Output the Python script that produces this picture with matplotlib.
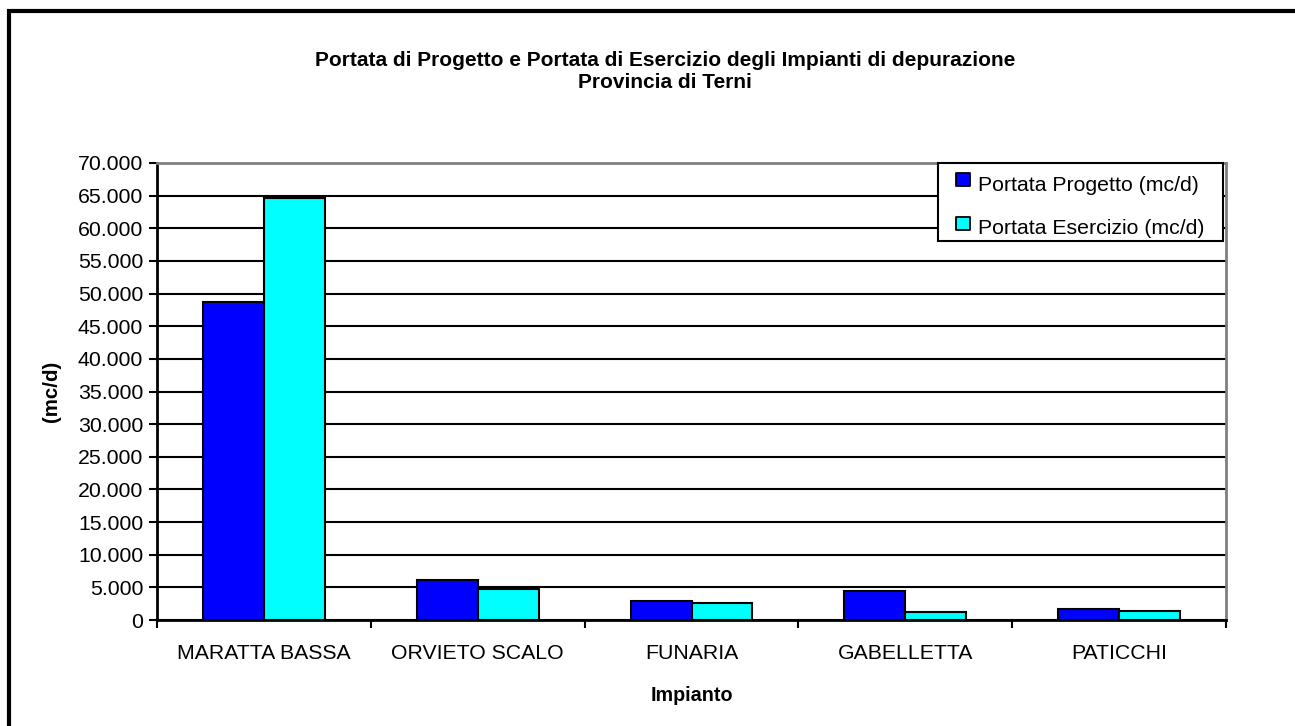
import matplotlib.pyplot as plt
from matplotlib.patches import Rectangle
from matplotlib.lines import Line2D
from matplotlib.path import Path
from matplotlib.ticker import FuncFormatter
import numpy as np

plt.rcParams['font.family'] = ['Liberation Sans', 'DejaVu Sans']

# Impianti di depurazione - Provincia di Terni
impianti = ['MARATTA BASSA', 'ORVIETO SCALO', 'FUNARIA', 'GABELLETTA', 'PATICCHI']
progetto = [48700, 6200, 2900, 4450, 1750]
esercizio = [64700, 4750, 2650, 1150, 1450]
serie = ['Portata Progetto (mc/d)', 'Portata Esercizio (mc/d)']
colori = ['#0000FF', '#00FFFF']

W, H = 1295, 726
fig = plt.figure(figsize=(W / 100, H / 100), dpi=100)
ax = fig.add_axes([157 / W, 1 - 620 / H, (1226 - 157) / W, (620 - 163) / H])

x = np.arange(len(impianti))
w = 0.285
ax.bar(x - w / 2, progetto, w, color=colori[0], edgecolor='black', linewidth=1.5, zorder=3)
ax.bar(x + w / 2, esercizio, w, color=colori[1], edgecolor='black', linewidth=1.5, zorder=3)

ax.set_xlim(-0.5, len(impianti) - 0.5)
ax.set_ylim(0, 70000)
ax.set_yticks(np.arange(0, 70001, 5000))
ax.yaxis.set_major_formatter(FuncFormatter(lambda v, p: f'{int(v):,}'.replace(',', '.')))
ax.set_xticks(x)
ax.set_xticklabels(impianti)
ax.set_xticks(np.arange(-0.5, len(impianti)), minor=True)
ax.tick_params(axis='x', which='major', length=0, labelsize=15.3, pad=17)
ax.tick_params(axis='x', which='minor', length=6, width=1.5, direction='out')
ax.tick_params(axis='y', length=6, width=1.5, labelsize=15.3, pad=4)

ax.grid(axis='y', color='black', linewidth=1.5, zorder=0)
for s in ['top', 'right']:
    ax.spines[s].set_color('#808080')
    ax.spines[s].set_linewidth(2)
for s in ['left', 'bottom']:
    ax.spines[s].set_color('black')
    ax.spines[s].set_linewidth(2)

ax.set_ylabel('(mc/d)', fontsize=14.8, fontweight='bold', labelpad=12)
ax.set_xlabel('Impianto', fontsize=14.2, fontweight='bold', labelpad=17)

fig.text(665 / W, 1 - 60 / H, 'Portata di Progetto e Portata di Esercizio degli Impianti di depurazione',
         ha='center', va='center', fontsize=15, fontweight='bold')
fig.text(665 / W, 1 - 82 / H, 'Provincia di Terni', ha='center', va='center',
         fontsize=15, fontweight='bold')

# legend box drawn by hand, small squares sit a bit above the text
fig.patches.append(Rectangle((938 / W, 1 - 241 / H), 285 / W, 78 / H, transform=fig.transFigure,
                             facecolor='white', edgecolor='black', linewidth=1.5, zorder=4))
d = 0.3
quadrato = Path([(-0.5, -0.5 + d), (0.5, -0.5 + d), (0.5, 0.5 + d), (-0.5, 0.5 + d), (-0.5, -0.5 + d)],
                closed=True)
handles = [Line2D([], [], linestyle='none', marker=quadrato, markersize=15,
                  markerfacecolor=c, markeredgecolor='black', markeredgewidth=1.3) for c in colori]
fig.legend(handles, serie, loc='center left', bbox_to_anchor=(952 / W, 1 - 207 / H),
           bbox_transform=fig.transFigure, fontsize=15.3, frameon=False, borderpad=0,
           borderaxespad=0, handlelength=1.0, handletextpad=0.24, labelspacing=1.15)

fig.patches.append(Rectangle((9 / W, -0.1), 1.2, 1 - 11 / H + 0.1, transform=fig.transFigure,
                             fill=False, edgecolor='black', linewidth=3))

fig.savefig('out.png', dpi=100)
